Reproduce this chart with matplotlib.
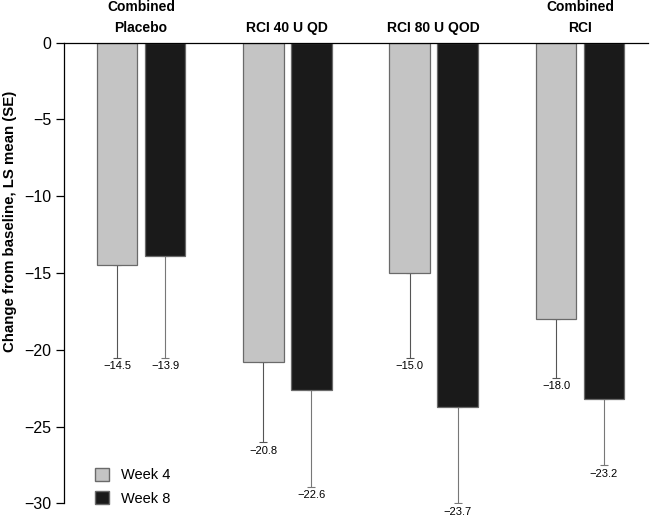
import numpy as np
import matplotlib
matplotlib.use("Agg")
import matplotlib.pyplot as plt
from matplotlib.patches import Patch

plt.rcParams['font.family'] = ['Liberation Sans', 'DejaVu Sans']

groups = ["Combined\nPlacebo", "RCI 40 U QD", "RCI 80 U QOD", "Combined\nRCI"]
week4 = [-14.5, -20.8, -15.0, -18.0]
week8 = [-13.9, -22.6, -23.7, -23.2]
se4 = [6.0, 5.2, 5.5, 3.8]
se8 = [6.6, 6.3, 6.3, 4.3]

c4 = "#c4c4c4"
c8 = "#1a1a1a"
edge = "#6a6a6a"

fig = plt.figure(figsize=(6.5, 5.19), dpi=100)
ax = fig.add_axes([0.0985, 0.030, 0.8985, 0.8877])

x = np.arange(len(groups))
off = 0.164
w = 0.277

ax.bar(x - off, week4, w, color=c4, edgecolor=edge, linewidth=0.9, zorder=2)
ax.bar(x + off, week8, w, color=c8, edgecolor=edge, linewidth=0.9, zorder=2)

# one-sided (downward) error bars
ax.errorbar(x - off, week4, yerr=[se4, [0] * 4], fmt="none", ecolor="#555555",
            elinewidth=0.8, capsize=3, capthick=0.8, zorder=1)
ax.errorbar(x + off, week8, yerr=[se8, [0] * 4], fmt="none", ecolor="#777777",
            elinewidth=0.8, capsize=3, capthick=0.8, zorder=1)

for xi, v, s in zip(x - off, week4, se4):
    ax.text(xi, v - s - 0.25, f"\u2212{abs(v):.1f}", ha="center", va="top",
            fontsize=8, clip_on=False)
for xi, v, s in zip(x + off, week8, se8):
    ax.text(xi, v - s - 0.25, f"\u2212{abs(v):.1f}", ha="center", va="top",
            fontsize=8, clip_on=False)

for xi, g in zip(x, groups):
    ax.text(xi, 0.5, g, ha="center", va="bottom", fontsize=10,
            fontweight="bold", linespacing=1.6)

ax.set_xlim(-0.526, 3.465)
ax.set_ylim(-30, 0)
ax.set_yticks([0, -5, -10, -15, -20, -25, -30])
ax.set_yticklabels(["0", "\u22125", "\u221210", "\u221215", "\u221220", "\u221225", "\u221230"])
ax.tick_params(axis="y", labelsize=11.5, length=6, width=0.9, pad=3)
ax.set_xticks([])

for sp in ["bottom", "right"]:
    ax.spines[sp].set_visible(False)
ax.spines["left"].set_linewidth(0.9)
ax.spines["top"].set_linewidth(0.9)

ax.set_ylabel("Change from baseline, LS mean (SE)", fontsize=10.8,
              fontweight="bold")
ax.yaxis.set_label_coords(-0.08, 0.613)

handles = [Patch(facecolor=c4, edgecolor=edge, label="Week 4"),
           Patch(facecolor=c8, edgecolor=edge, label="Week 8")]
ax.legend(handles=handles, loc="lower left", bbox_to_anchor=(0.03, -0.033),
          frameon=False, fontsize=10.5, handlelength=1.0, handleheight=1.0,
          handletextpad=0.8, labelspacing=0.6)

fig.savefig("out.png", dpi=100)
